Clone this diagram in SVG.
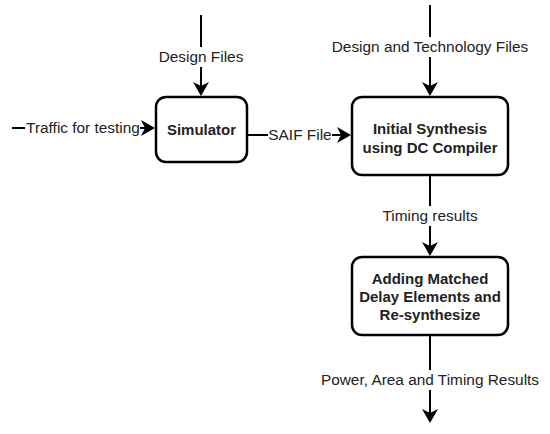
<svg xmlns="http://www.w3.org/2000/svg" width="550" height="434" viewBox="0 0 550 434">
<defs>
<marker id="arr" markerWidth="14" markerHeight="16" refX="12" refY="8" orient="auto" markerUnits="userSpaceOnUse" viewBox="0 0 14 16">
<path d="M0,0 L14,8 L0,16 L4,8 Z" fill="#000"/>
</marker>
<style>
.node rect{fill:#fff;stroke:#000;stroke-width:2.5}
.nt{font-family:"Liberation Sans",Arial,sans-serif;font-size:15px;font-weight:bold;fill:#222;text-anchor:middle}
.lbl{font-family:"Liberation Sans",Arial,sans-serif;font-size:15.4px;fill:#222;text-anchor:middle}
.edge{stroke:#000;stroke-width:2;fill:none}
.arrow{marker-end:url(#arr)}
.lb{fill:#fff}
</style>
</defs>
<rect width="550" height="434" fill="#fff"/>
<g id="connectors">
<path class="edge arrow" d="M201,15 L201,94"/>
<path class="edge arrow" d="M12,128 L153,128"/>
<path class="edge arrow" d="M247,135 L349,135"/>
<path class="edge arrow" d="M430,5 L430,94"/>
<path class="edge arrow" d="M430,175 L430,254"/>
<path class="edge arrow" d="M430,335 L430,421"/>
<rect class="lb" x="157" y="47" width="88" height="20"/>
<text class="lbl" x="201" y="62">Design Files</text>
<rect class="lb" x="25" y="118" width="115" height="20"/>
<text class="lbl" x="83" y="133">Traffic for testing</text>
<rect class="lb" x="268" y="125" width="64" height="20"/>
<text class="lbl" x="300" y="140">SAIF File</text>
<rect class="lb" x="328" y="37" width="204" height="20"/>
<text class="lbl" x="430" y="52">Design and Technology Files</text>
<rect class="lb" x="379" y="206" width="102" height="20"/>
<text class="lbl" x="430" y="221">Timing results</text>
<rect class="lb" x="318" y="370" width="226" height="20"/>
<text class="lbl" x="430" y="385">Power, Area and Timing Results</text>
</g>
<g id="simulator" class="node">
<rect x="156" y="97" width="91" height="65" rx="10"/>
<text class="nt" x="201.5" y="135">Simulator</text>
</g>
<g id="synthesis" class="node">
<rect x="352" y="97" width="156" height="78" rx="10"/>
<text class="nt" x="430" y="134">Initial Synthesis</text>
<text class="nt" x="430" y="153">using DC Compiler</text>
</g>
<g id="resynth" class="node">
<rect x="352" y="257" width="156" height="78" rx="10"/>
<text class="nt" x="430" y="284">Adding Matched</text>
<text class="nt" x="430" y="302">Delay Elements and</text>
<text class="nt" x="430" y="320">Re-synthesize</text>
</g>
</svg>
